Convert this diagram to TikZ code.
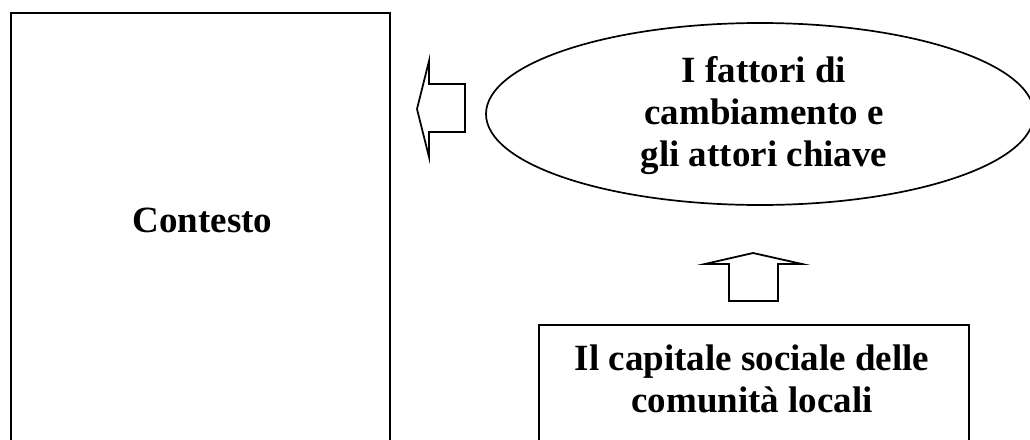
\documentclass[tikz,border=0pt]{standalone}
\usepackage{fontspec}
\setmainfont{Liberation Serif}
\usetikzlibrary{shapes.geometric}
\begin{document}
\begin{tikzpicture}[x=1pt,y=-1pt,
  boxline/.style={draw=black, line width=2pt, fill=none, inner sep=0pt},
  blockarrow/.style={draw=black, line width=1.8pt, line join=miter, fill=white},
  lbl/.style={font=\fontsize{37}{42}\selectfont\bfseries, inner sep=0pt, align=center}]
\useasboundingbox (0,0) rectangle (1030,439);
\fill[white] (0,0) rectangle (1030,439);
\clip (0,0) rectangle (1030,439);
% left box
\node[boxline, rectangle, minimum width=379pt, minimum height=460pt] (ctxbox) at (200.5,243) {};
\node[lbl, anchor=base] (ctxlabel) at (202.5,232) {Contesto};
% ellipse
\node[boxline, line width=1.7pt, ellipse, minimum width=548pt, minimum height=182pt] (fattori) at (760,114) {};
\node[lbl] (fattorilabel) at (764,116) {I fattori di\\cambiamento e\\gli attori chiave};
% bottom box
\node[boxline, rectangle, minimum width=430pt, minimum height=150pt] (capbox) at (754,400) {};
\node[lbl] (caplabel) at (752,379) {Il capitale sociale delle\\comunità locali};
% left block arrow
\coordinate (la1) at (465,84);
\draw[blockarrow] (la1) -- (429,84) -- (429,61) -- (417,109) -- (429,157) -- (429,132) -- (465,132) -- cycle;
% up block arrow
\coordinate (ua1) at (729,301);
\draw[blockarrow] (ua1) -- (729,264) -- (705,264) -- (753,253) -- (802,264) -- (778,264) -- (778,301) -- cycle;
\end{tikzpicture}
\end{document}
